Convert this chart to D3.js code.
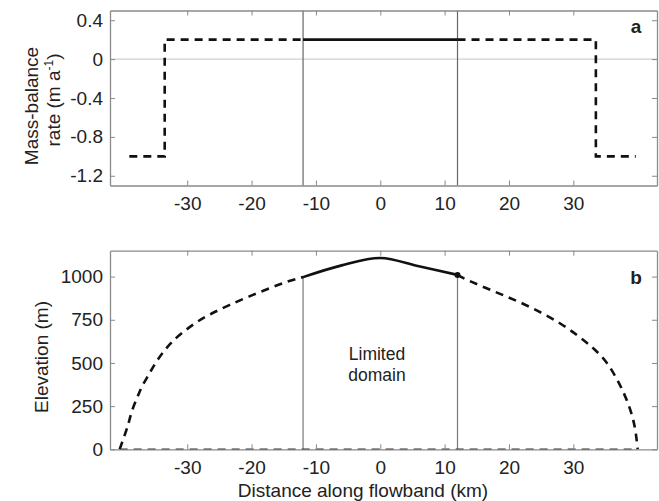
<!DOCTYPE html>
<html lang="en">
<head>
    <meta charset="UTF-8">
    <title>Mass balance and elevation along flowband</title>
    <script src="https://d3js.org/d3.v7.min.js"></script>
    <style>
        body {
            margin: 0;
            background-color: white;
            font-family: 'Liberation Sans', Arial, sans-serif;
        }
        .tick text {
            font-size: 19px;
            fill: #222;
        }
        .label {
            font-size: 19px;
            fill: #222;
        }
    </style>
</head>
<body>
    <div id="chart"></div>

    <script>
        // x ticks shared by both panels
        const xTicks = [-30, -20, -10, 0, 10, 20, 30];

        // panel a: mass-balance rate (m/a)
        const mbTicks = [0.4, 0, -0.4, -0.8, -1.2];
        const mbLeftX = [-39, -33.5, -33.5, -12];
        const mbLeftY = [-1, -1, 0.2, 0.2];
        const mbMidX = [-12, 12];
        const mbMidY = [0.2, 0.2];
        const mbRightX = [12, 33.5, 33.5, 39.7];
        const mbRightY = [0.2, 0.2, -1, -1];

        // panel b: elevation (m)
        const elTicks = [0, 250, 500, 750, 1000];
        const elMidX = [-12, -6, 0, 6, 12];
        const elMidY = [997, 1065, 1108, 1060, 1010];
        const elLeftX = [-40.5, -39.7, -39.1, -38.6, -37.8, -37.1, -36, -35, -33.7, -32.4, -30.6, -28.5, -26.2, -23.4, -20.5, -17.2, -14.1, -12];
        const elLeftY = [0, 83, 150, 228, 295, 363, 430, 498, 565, 623, 681, 739, 788, 836, 884, 933, 977, 997];
        const elRightX = [12, 12.8, 15.9, 19, 22.1, 25.2, 28, 30.6, 32.9, 35, 36.6, 37.9, 38.9, 39.6, 39.9, 40];
        const elRightY = [1010, 991, 942, 894, 846, 788, 730, 662, 594, 517, 421, 324, 228, 131, 35, 0];
        const bedX = [-40.5, 40];
        const bedY = [0, 0];

        const domainEdges = [-12, 12];

        const width = 659;
        const height = 501;
        const left = 110, right = 657;

        // plain hyphen for negatives, like the original figure
        const loc = d3.formatLocale({ decimal: ".", thousands: ",", grouping: [3], currency: ["", ""], minus: "-" });

        const svg = d3.select("#chart")
            .append("svg")
            .attr("width", width)
            .attr("height", height);

        const x = d3.scaleLinear().domain([-42, 43]).range([left, right]);
        const yA = d3.scaleLinear().domain([-1.3, 0.5]).range([185.5, 10.5]);
        const yB = d3.scaleLinear().domain([0, 1150]).range([449.3, 250.7]);

        const zip = (xs, ys) => xs.map((v, i) => [v, ys[i]]);

        // box with inward ticks on all four sides
        function drawAxes(y, yTicks, yFormat) {
            const [y0, y1] = y.range();
            const g = svg.append("g");

            g.append("g")
                .attr("transform", `translate(0,${y0})`)
                .call(d3.axisBottom(x).tickValues(xTicks).tickSizeInner(-5).tickSizeOuter(0).tickPadding(11).tickFormat(loc.format("d")));
            g.append("g")
                .attr("transform", `translate(0,${y1})`)
                .call(d3.axisTop(x).tickValues(xTicks).tickSizeInner(-5).tickSizeOuter(0).tickFormat(""));
            g.append("g")
                .attr("transform", `translate(${left},0)`)
                .call(d3.axisLeft(y).tickValues(yTicks).tickSizeInner(-5).tickSizeOuter(0).tickPadding(7).tickFormat(yFormat));
            g.append("g")
                .attr("transform", `translate(${right},0)`)
                .call(d3.axisRight(y).tickValues(yTicks).tickSizeInner(-5).tickSizeOuter(0).tickFormat(""));

            g.selectAll(".domain").attr("stroke", "#8a8a8a").attr("stroke-width", 1.3);
            g.selectAll(".tick line").attr("stroke", "#8a8a8a");
            g.selectAll(".tick text").attr("font-family", null).attr("font-size", null);
            return g;
        }

        // ---- panel a ----
        svg.append("line")
            .attr("x1", left).attr("x2", right)
            .attr("y1", yA(0)).attr("y2", yA(0))
            .attr("stroke", "#c4c4c4").attr("stroke-width", 1);

        domainEdges.forEach(d => {
            svg.append("line")
                .attr("x1", x(d)).attr("x2", x(d))
                .attr("y1", yA.range()[0]).attr("y2", yA.range()[1])
                .attr("stroke", "#666").attr("stroke-width", 1.2);
        });

        const lineA = d3.line().x(d => x(d[0])).y(d => yA(d[1]));

        [zip(mbLeftX, mbLeftY), zip(mbRightX, mbRightY)].forEach(pts => {
            svg.append("path")
                .attr("d", lineA(pts))
                .attr("fill", "none")
                .attr("stroke", "#111")
                .attr("stroke-width", 2.6)
                .attr("stroke-dasharray", "8,6");
        });
        svg.append("path")
            .attr("d", lineA(zip(mbMidX, mbMidY)))
            .attr("fill", "none")
            .attr("stroke", "#111")
            .attr("stroke-width", 2.6);

        drawAxes(yA, mbTicks, d => d === 0 ? "0" : loc.format(".1f")(d));

        svg.append("text")
            .attr("class", "label")
            .attr("x", 636).attr("y", 33)
            .attr("text-anchor", "middle")
            .style("font-weight", "bold")
            .text("a");

        // two-line y title, each line centred on its own
        svg.append("text")
            .attr("class", "label")
            .attr("transform", "translate(38,106) rotate(-90)")
            .attr("text-anchor", "middle")
            .text("Mass-balance");
        const rate = svg.append("text")
            .attr("class", "label")
            .attr("transform", "translate(60,100) rotate(-90)")
            .attr("text-anchor", "middle");
        rate.append("tspan").text("rate (m a");
        rate.append("tspan").attr("dy", -7).style("font-size", "12px").text("-1");
        rate.append("tspan").attr("dy", 7).text(")");

        // ---- panel b ----
        domainEdges.forEach(d => {
            const yv = elMidY[elMidX.indexOf(d)];
            svg.append("line")
                .attr("x1", x(d)).attr("x2", x(d))
                .attr("y1", yB(yv)).attr("y2", yB(0))
                .attr("stroke", "#777").attr("stroke-width", 1.2);
        });

        const lineB = d3.line().x(d => x(d[0])).y(d => yB(d[1])).curve(d3.curveCatmullRom);
        const lineSmooth = d3.line().x(d => x(d[0])).y(d => yB(d[1])).curve(d3.curveBasis);

        svg.append("path")
            .attr("d", d3.line().x(d => x(d[0])).y(d => yB(d[1]))(zip(bedX, bedY)))
            .attr("fill", "none")
            .attr("stroke", "#333")
            .attr("stroke-width", 1.6)
            .attr("stroke-dasharray", "8,6");

        [zip(elLeftX, elLeftY), zip(elRightX, elRightY)].forEach(pts => {
            svg.append("path")
                .attr("d", lineSmooth(pts))
                .attr("fill", "none")
                .attr("stroke", "#111")
                .attr("stroke-width", 2.6)
                .attr("stroke-dasharray", "8,6");
        });
        svg.append("path")
            .attr("d", lineB(zip(elMidX, elMidY)))
            .attr("fill", "none")
            .attr("stroke", "#111")
            .attr("stroke-width", 2.6);

        svg.append("circle")
            .attr("cx", x(elMidX[elMidX.length - 1]))
            .attr("cy", yB(elMidY[elMidY.length - 1]))
            .attr("r", 3)
            .attr("fill", "#111");

        drawAxes(yB, elTicks, loc.format("d"));

        svg.append("text")
            .attr("class", "label")
            .attr("x", 636).attr("y", 284)
            .attr("text-anchor", "middle")
            .style("font-weight", "bold")
            .text("b");

        svg.append("text")
            .attr("class", "label")
            .attr("transform", "translate(48,357) rotate(-90)")
            .attr("text-anchor", "middle")
            .text("Elevation (m)");

        svg.append("text")
            .attr("class", "label")
            .attr("x", 363).attr("y", 496.5)
            .attr("text-anchor", "middle")
            .text("Distance along flowband (km)");

        const note = svg.append("text")
            .attr("class", "label")
            .style("font-size", "17.5px")
            .attr("text-anchor", "middle");
        note.append("tspan").attr("x", 377).attr("y", 360).text("Limited");
        note.append("tspan").attr("x", 377).attr("y", 381).text("domain");
    </script>
</body>
</html>
